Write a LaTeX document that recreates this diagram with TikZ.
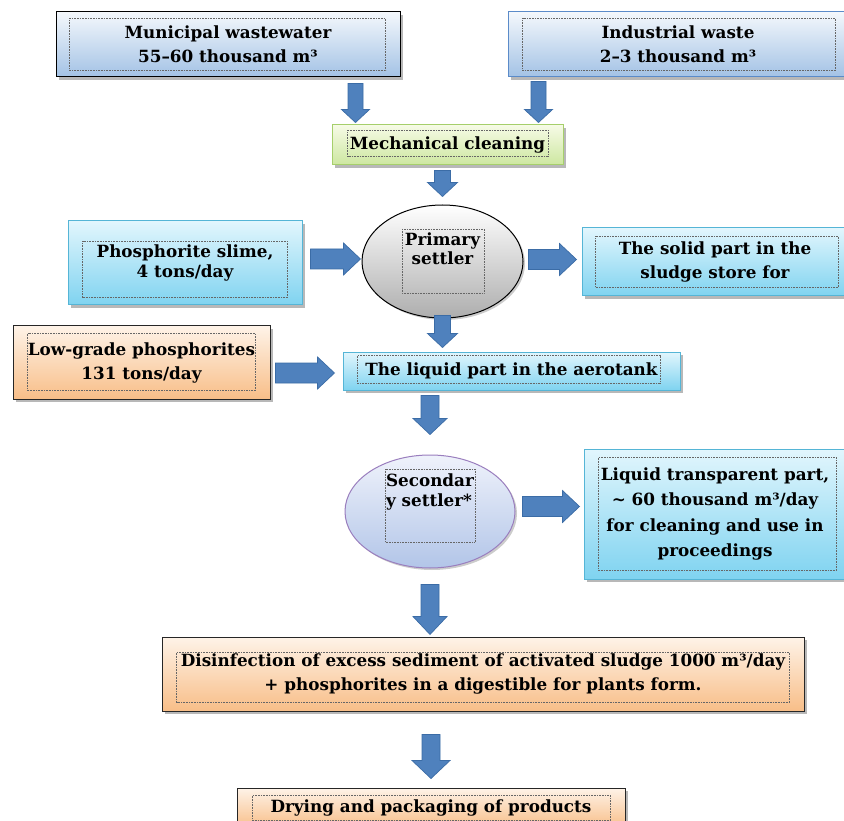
\documentclass[tikz,border=0pt]{standalone}
\usepackage{fontspec}
\setmainfont{DejaVu Serif}
\usetikzlibrary{calc,shadows,shapes.geometric}
\definecolor{bluetop}{HTML}{F4F8FC}
\definecolor{bluebot}{HTML}{A3C2E5}
\definecolor{blueedge}{HTML}{5B8BC9}
\definecolor{greentop}{HTML}{F6FBE6}
\definecolor{greenbot}{HTML}{CDE7A0}
\definecolor{greenedge}{HTML}{A6CF6B}
\definecolor{cyantop}{HTML}{E2F6FD}
\definecolor{cyanbot}{HTML}{7FD3F0}
\definecolor{cyanedge}{HTML}{55B5D6}
\definecolor{orgtop}{HTML}{FEF3E8}
\definecolor{orgbot}{HTML}{F8BE88}
\definecolor{lavtop}{HTML}{EFF2FB}
\definecolor{lavbot}{HTML}{B2C5E8}
\definecolor{lavedge}{HTML}{9A7EBE}
\definecolor{arrfill}{HTML}{4F81BD}
\definecolor{arredge}{HTML}{3B6CA6}
\tikzset{
  ashaft/.store in=\ashaft, ahead/.store in=\ahead, alen/.store in=\alen,
  ashaft=8.5pt, ahead=17pt, alen=16pt,
  txt/.style={font=\fontsize{16.8}{24}\selectfont\bfseries},
  box/.style={rectangle, draw, line width=1pt, align=center, inner sep=0pt, txt,
    drop shadow={shadow xshift=3pt, shadow yshift=-3pt, fill=black, opacity=0.28}},
  bluebox/.style={box, top color=bluetop, bottom color=bluebot},
  greenbox/.style={box, top color=greentop, bottom color=greenbot, draw=greenedge},
  cyanbox/.style={box, top color=cyantop, bottom color=cyanbot, draw=cyanedge},
  orgbox/.style={box, top color=orgtop, bottom color=orgbot, draw=black!85},
  oval/.style={ellipse, draw, line width=1pt, inner sep=0pt,
    drop shadow={shadow xshift=2pt, shadow yshift=-2pt, fill=black, opacity=0.2}},
  lbl/.style={txt, inner sep=0pt},
  frm/.style={draw=black!60, line width=0.5pt, dash pattern=on 0.7pt off 0.9pt},
  blkfill/.style={fill=arrfill, draw=arredge, line width=0.7pt, line join=miter},
  blkd/.style={blkfill, to path={let \p1=(\tikztostart), \p2=(\tikztotarget) in
    (\x1-\ashaft,\y1) -- (\x1-\ashaft,\y2+\alen) -- (\x1-\ahead,\y2+\alen) -- (\x1,\y2)
    -- (\x1+\ahead,\y2+\alen) -- (\x1+\ashaft,\y2+\alen) -- (\x1+\ashaft,\y1) -- cycle}},
  blkr/.style={blkfill, to path={let \p1=(\tikztostart), \p2=(\tikztotarget) in
    (\x1,\y1+\ashaft) -- (\x2-\alen,\y1+\ashaft) -- (\x2-\alen,\y1+\ahead) -- (\x2,\y1)
    -- (\x2-\alen,\y1-\ahead) -- (\x2-\alen,\y1-\ashaft) -- (\x1,\y1-\ashaft) -- cycle}},
}
\begin{document}
\begin{tikzpicture}[x=1pt,y=-1pt]
\fill[white] (0,0) rectangle (844,821);
\useasboundingbox (0,0) rectangle (844,821);

% boxes
\node[bluebox, draw=black, minimum width=344pt, minimum height=65pt] (muni) at (228,44.5)
  {Municipal wastewater\\55--60 thousand m³};
\node[bluebox, draw=blueedge, minimum width=340pt, minimum height=65pt] (indus) at (678,44.5)
  {Industrial waste\\2--3 thousand m³};
\node[greenbox, minimum width=231pt, minimum height=40pt] (mech) at (447.5,145)
  {Mechanical cleaning};
\node[oval, top color=white, bottom color=black!32, draw=black, minimum width=161pt, minimum height=113pt] (prim) at (442.5,261.5) {};
\node[lbl, font=\fontsize{16.8}{19}\selectfont\bfseries, align=center] (primlbl) at ($(prim.center)+(0,-13)$) {Primary\\settler};
\node[cyanbox, minimum width=234pt, minimum height=84pt, font=\fontsize{16.8}{20}\selectfont\bfseries] (phos) at (185,263)
  {Phosphorite slime,\\4 tons/day};
\node[cyanbox, minimum width=266pt, minimum height=68pt] (solid) at (715,262)
  {The solid part in the\\sludge store for};
\node[orgbox, minimum width=257pt, minimum height=73pt] (low) at (141.5,362.5)
  {Low-grade phosphorites\\131 tons/day};
\node[cyanbox, minimum width=337pt, minimum height=38pt] (liquid) at (511.5,371)
  {The liquid part in the aerotank};
\node[oval, top color=lavtop, bottom color=lavbot, draw=lavedge, minimum width=170pt, minimum height=113pt] (sec) at (430,511.5) {};
\node[lbl, font=\fontsize{16.8}{20}\selectfont\bfseries, align=left] (seclbl) at ($(sec.center)+(0,-19.5)$) {Secondar\\y settler*};
\node[cyanbox, minimum width=262pt, minimum height=130pt, font=\fontsize{16.8}{25.5}\selectfont\bfseries] (transp) at (715,514)
  {Liquid transparent part,\\\textasciitilde{} 60 thousand m³/day\\for cleaning and use in\\proceedings};
\node[orgbox, minimum width=642pt, minimum height=74pt] (disinf) at (483,674)
  {Disinfection of excess sediment of activated sludge 1000 m³/day\\+ phosphorites in a digestible for plants form.};
\node[orgbox, minimum width=388pt, minimum height=40pt] (dry) at (431,808)
  {Drying and packaging of products};

% inner dotted text frames
\draw[frm] ([shift={(14,7)}]muni.north west) rectangle ([shift={(-15,-7)}]muni.south east);
\draw[frm] ([shift={(15,7)}]indus.north west) rectangle ([shift={(-13,-7)}]indus.south east);
\draw[frm] ([shift={(16,6)}]mech.north west) rectangle ([shift={(-15,-9)}]mech.south east);
\draw[frm] ($(prim.center)+(-40.5,-32.5)$) rectangle ($(prim.center)+(41.5,31.5)$);
\draw[frm] ([shift={(15,21)}]phos.north west) rectangle ([shift={(-15,-8)}]phos.south east);
\draw[frm] ([shift={(14,9)}]solid.north west) rectangle ([shift={(-10,-9)}]solid.south east);
\draw[frm] ([shift={(15,8)}]low.north west) rectangle ([shift={(-15,-9)}]low.south east);
\draw[frm] ([shift={(15,4)}]liquid.north west) rectangle ([shift={(-20,-7)}]liquid.south east);
\draw[frm] ($(sec.center)+(-45,-42.5)$) rectangle ($(sec.center)+(45,30.5)$);
\draw[frm] ([shift={(15,9)}]transp.north west) rectangle ([shift={(-10,-9)}]transp.south east);
\draw[frm] ([shift={(15,16)}]disinf.north west) rectangle ([shift={(-15,-9)}]disinf.south east);
\draw[frm] ([shift={(16,8)}]dry.north west) rectangle ([shift={(-15,-8)}]dry.south east);

% reference points for arrows into the mechanical cleaning box
\coordinate (m1) at ([xshift=24pt]mech.north west);
\coordinate (m2) at ([xshift=-25pt]mech.north east);

% block arrows
\draw[blkd, ashaft=7.5pt, ahead=14pt, alen=13pt] ($(muni.south -| m1)+(0,6)$) to ($(m1)+(0,-2)$);
\draw[blkd, ashaft=7.5pt, ahead=14pt, alen=13pt] ($(indus.south -| m2)+(0,4)$) to ($(m2)+(0,-2)$);
\draw[blkd, ashaft=8pt, ahead=15pt, alen=14pt] ($(mech.south -| prim.north)+(0,5)$) to ($(prim.north)+(0,-8)$);
\draw[blkr, ashaft=10pt, ahead=16pt, alen=17pt] ($(phos.east)+(8,-4)$) to ($(phos.east -| prim.west)+(-1,-4)$);
\draw[blkr, ashaft=10pt, ahead=16pt, alen=17pt] ($(prim.east)+(5,-2)$) to ($(prim.east -| solid.west)+(-5,-2)$);
\draw[blkd, ashaft=8pt, ahead=15pt, alen=14pt] ($(prim.south)+(0,-3)$) to ($(liquid.north -| prim.south)+(0,-4)$);
\draw[blkr, ashaft=10pt, ahead=16pt, alen=17pt] ($(low.east)+(5,10.5)$) to ($(low.east -| liquid.west)+(-8,10.5)$);
\draw[blkd, ashaft=9pt, ahead=17pt, alen=16pt] ($(liquid.south -| sec.north)+(0,5)$) to ($(sec.north)+(0,-20)$);
\draw[blkr, ashaft=10pt, ahead=16pt, alen=17pt] ($(sec.east)+(7,-5)$) to ($(sec.east -| transp.west)+(-4,-5)$);
\draw[blkd, ashaft=9pt, ahead=17pt, alen=18pt] ($(sec.south)+(0,16)$) to ($(disinf.north -| sec.south)+(0,-2)$);
\draw[blkd, ashaft=9pt, ahead=19pt, alen=18pt] ($(disinf.south -| dry.north)+(0,23)$) to ($(dry.north)+(0,-9)$);
\end{tikzpicture}
\end{document}
